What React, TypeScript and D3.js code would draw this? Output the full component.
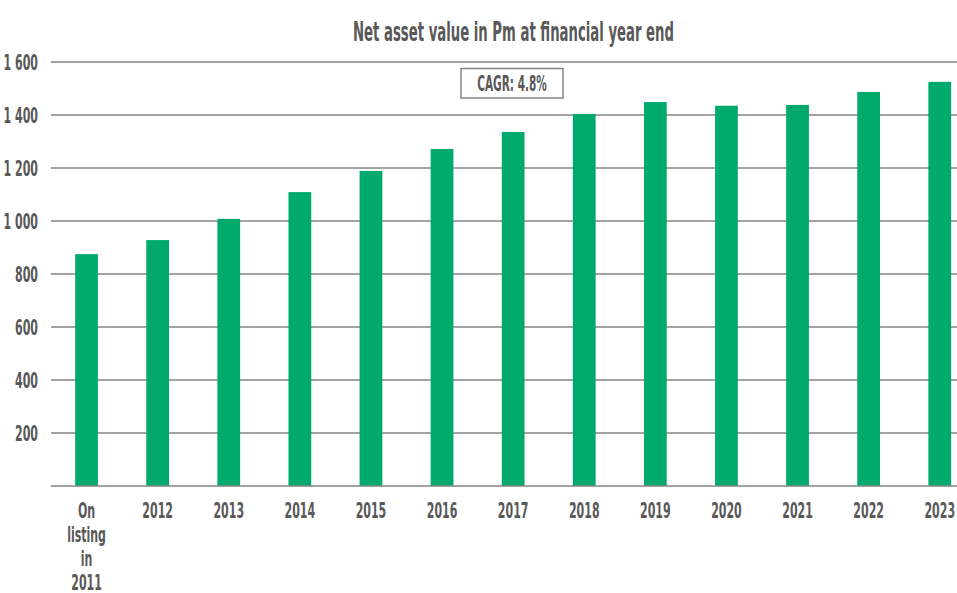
import React from "react";
import * as d3 from "d3";

const categories = ["On listing in 2011", "2012", "2013", "2014", "2015", "2016", "2017", "2018", "2019", "2020", "2021", "2022", "2023"];
const values = [875, 928, 1008, 1109, 1189, 1272, 1336, 1404, 1449, 1435, 1438, 1487, 1525];
const yTicks = [200, 400, 600, 800, 1000, 1200, 1400, 1600];
const title = "Net asset value in Pm at financial year end";
const annotation = "CAGR: 4.8%";

const W = 957;
const H = 593;
const FONT = "'DejaVu Sans', Verdana, sans-serif";
const TEXT = "#595959";
const GRID = "#858585";
const GREEN = "#00AA6C";
const SX = 0.5;

function fmt(v: number) {
  return v >= 1000 ? `${Math.floor(v / 1000)} ${String(v % 1000).padStart(3, "0")}` : String(v);
}

function T({ x, y, size, anchor = "middle", children }: any) {
  return (
    <text
      transform={`translate(${x},${y}) scale(${SX},1)`}
      textAnchor={anchor}
      fontFamily={FONT}
      fontWeight="bold"
      fontSize={size}
      fill={TEXT}
    >
      {children}
    </text>
  );
}

export default function App() {
  const left = 51;
  const step = 71.1;
  const x = d3
    .scaleBand<string>()
    .domain(categories)
    .range([left, left + step * categories.length])
    .paddingInner(0.68)
    .paddingOuter(0.34);
  const y = d3.scaleLinear().domain([0, 1600]).range([486, 62]);

  return (
    <svg width={W} height={H} style={{ position: "absolute", left: 0, top: 0, background: "#fff" }}>
      <rect x={0} y={0} width={W} height={H} fill="#fff" />
      <T x={513.5} y={41} size={26.5}>{title}</T>
      {yTicks.map((t) => (
        <g key={t}>
          <line x1={left} x2={W} y1={y(t)} y2={y(t)} stroke={GRID} strokeWidth={1.5} />
          <T x={38} y={y(t) + 8} size={22} anchor="end">{fmt(t)}</T>
        </g>
      ))}
      {categories.map((c, i) => (
        <rect key={c} x={x(c)} y={y(values[i])} width={x.bandwidth()} height={y(0) - y(values[i])} fill={GREEN} />
      ))}
      <line x1={left} x2={W} y1={y(0)} y2={y(0)} stroke={GRID} strokeWidth={1.5} />
      {categories.map((c) => {
        const cx = (x(c) as number) + x.bandwidth() / 2;
        const lines = c === categories[0] ? ["On", "listing", "in", "2011"] : [c];
        return (
          <g key={c}>
            {lines.map((l, j) => (
              <T key={j} x={cx} y={517.5 + j * 24.2} size={22}>{l}</T>
            ))}
          </g>
        );
      })}
      <rect x={461} y={68.5} width={102} height={29.5} fill="#fff" stroke={GRID} strokeWidth={1.5} />
      <T x={512} y={91} size={21}>{annotation}</T>
    </svg>
  );
}
